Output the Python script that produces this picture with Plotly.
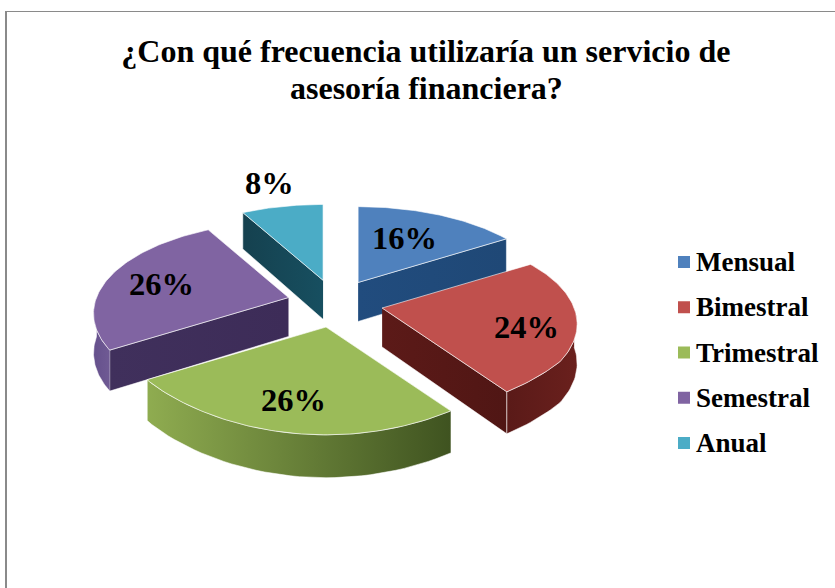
import numpy as np
import plotly.graph_objects as go

# Survey answers, percent
categories = ["Mensual", "Bimestral", "Trimestral", "Semestral", "Anual"]
values = [16, 24, 26, 26, 8]
labels = ["16%", "24%", "26%", "26%", "8%"]

top_colors = ["#4F81BD", "#C0504D", "#9BBB59", "#8064A2", "#4BACC6"]
cut_colors = [
    ["#214c7e", "#1f4876"],
    ["#5c1a18", "#501614"],
    ["#8fac50", "#3f5320"],
    ["#40305c", "#3d2c58"],
    ["#15414f", "#174f60"],
]
wall_colors = [
    ["#214c7e", "#1f4876"],
    ["#5a1a18", "#6a201d"],
    ["#8fac50", "#3f5320"],
    ["#65508c", "#6f5a94"],
    ["#15414f", "#174f60"],
]
label_pos = [(404, 238), (526, 327), (293, 400), (161, 284), (269, 183)]

# fake 3D pie: centre, explode, ellipse radii, perspective, thickness (pixels)
CX, CY = 335, 303.5
EX, EY = 48, 24
A, B = 192, 89
P = 0.174
H = 39


def project(apex, ang, r=1.0):
    # ang is clockwise from the top, in radians
    X, Y = r * np.sin(ang), r * np.cos(ang)
    w = 1 / (1 + P * Y)
    # the front of the original is not as wide as true perspective would make it
    return apex[0] + A * X * np.minimum(w, 1.105), apex[1] - B * Y * w, H * np.sqrt(w)


def wall(apex, a0, a1):
    # outer wall of the slice between two angles
    ang = np.linspace(a0, a1, 40)
    x, y, h = project(apex, ang)
    return np.r_[x, x[::-1]], np.r_[y, (y + h)[::-1]]


def cut_face(apex, ang):
    x, y, h = project(apex, ang)
    return [apex[0], x, x, apex[0]], [apex[1], y, y + h, apex[1] + H * 1.0]


def side_trace(xs, ys, colors):
    return go.Scatter(
        x=xs, y=ys, mode="lines", fill="toself",
        fillgradient=dict(type="horizontal", colorscale=[[0, colors[0]], [1, colors[1]]]),
        line=dict(color="rgba(255,255,255,0.55)", width=1),
        hoverinfo="skip", showlegend=False,
    )


fig = go.Figure()

fracs = np.array(values) / sum(values)
ends = np.cumsum(fracs) * 2 * np.pi
starts = ends - fracs * 2 * np.pi

# paint from the back to the front
for i in [4, 0, 3, 1, 2]:
    a0, a1 = starts[i], ends[i]
    mid = (a0 + a1) / 2
    apex = (CX + EX * np.sin(mid), CY - EY * np.cos(mid))

    # cut faces turned to the viewer
    if np.sin(a0) < -1e-6:
        xs, ys = cut_face(apex, a0)
        fig.add_trace(side_trace(xs, ys, cut_colors[i]))
    if np.sin(a1) > 1e-6:
        xs, ys = cut_face(apex, a1)
        fig.add_trace(side_trace(xs, ys, cut_colors[i]))

    # outer wall only on the front half
    w0, w1 = max(a0, np.pi / 2), min(a1, 3 * np.pi / 2)
    if w1 > w0:
        xs, ys = wall(apex, w0, w1)
        fig.add_trace(side_trace(xs, ys, wall_colors[i]))

    # top of the slice
    ang = np.linspace(a0, a1, 80)
    x, y, _ = project(apex, ang)
    fig.add_trace(go.Scatter(
        x=np.r_[apex[0], x, apex[0]], y=np.r_[apex[1], y, apex[1]],
        mode="lines", fill="toself", fillcolor=top_colors[i],
        line=dict(color="rgba(255,255,255,0.6)", width=1),
        hoverinfo="skip", showlegend=False,
    ))

# percent labels
for txt, (lx, ly) in zip(labels, label_pos):
    fig.add_annotation(
        x=lx, y=ly, text=f"<b>{txt}</b>", showarrow=False,
        font=dict(family="Liberation Serif", size=32.5, color="black"),
    )

# legend drawn by hand, the built-in one leaves too wide a gap after the swatch
for i, name in enumerate(categories):
    row_y = 262 + 45.25 * i
    fig.add_trace(go.Scatter(
        x=[684], y=[row_y], mode="markers", name=name,
        marker=dict(symbol="square", size=12, color=top_colors[i]),
        hoverinfo="skip", showlegend=False,
    ))
    fig.add_annotation(
        x=696, y=row_y, xanchor="left", text=f"<b>{name}</b>", showarrow=False, xshift=-2,
        font=dict(family="Liberation Serif", size=27, color="black"),
    )

# second title line apart, the original sets its lines closer than plotly does
fig.add_annotation(
    x=426, y=88, text="<b>asesoría financiera?</b>", showarrow=False,
    font=dict(family="Liberation Serif", size=32, color="black"),
)

fig.update_layout(
    width=835,
    height=588,
    margin=dict(l=0, r=0, t=0, b=0),
    paper_bgcolor="white",
    plot_bgcolor="white",
    showlegend=False,
    title=dict(
        text="<b>¿Con qué frecuencia utilizaría un servicio de</b>",
        x=0.51, xanchor="center", y=0.932, yanchor="top",
        font=dict(family="Liberation Serif", size=32, color="black"),
    ),
    xaxis=dict(range=[0, 835], visible=False, fixedrange=True),
    yaxis=dict(range=[588, 0], visible=False, fixedrange=True),
    shapes=[
        dict(type="line", xref="paper", yref="paper", x0=5 / 835, x1=1, y0=1 - 11.5 / 588, y1=1 - 11.5 / 588,
             line=dict(color="#8a8a8a", width=1)),
        dict(type="line", xref="paper", yref="paper", x0=6 / 835, x1=6 / 835, y0=0, y1=1 - 11 / 588,
             line=dict(color="#8a8a8a", width=2)),
    ],
)

fig.write_html("out.html", config=dict(displayModeBar=False), post_script="document.body.style.margin='0'")
